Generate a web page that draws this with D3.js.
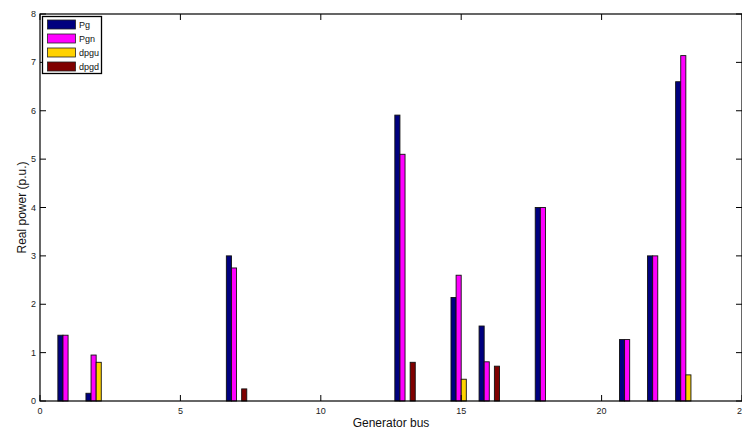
<!DOCTYPE html>
<html>
<head>
<meta charset="utf-8">
<script src="https://cdn.jsdelivr.net/npm/d3@7"></script>
<style>
  html, body { margin: 0; padding: 0; background: #fff; }
  svg { display: block; font-family: "Liberation Sans", Arial, sans-serif; }
</style>
</head>
<body>
<div id="chart"></div>
<script>
// generator bus numbers 1..23
const BUSES = d3.range(1, 24);
const SERIES = ["Pg", "Pgn", "dpgu", "dpgd"];
const COLORS = ["#00007f", "#ff00ff", "#ffd200", "#7f0000"];

const PG   = [1.36, 0.16, 0, 0, 0, 0, 3.0, 0, 0, 0, 0, 0, 5.91, 0, 2.14, 1.55, 0, 4.0, 0, 0, 1.27, 3.0, 6.6];
const PGN  = [1.36, 0.95, 0, 0, 0, 0, 2.75, 0, 0, 0, 0, 0, 5.1, 0, 2.6, 0.81, 0, 4.0, 0, 0, 1.27, 3.0, 7.14];
const DPGU = [0, 0.8, 0, 0, 0, 0, 0, 0, 0, 0, 0, 0, 0, 0, 0.45, 0, 0, 0, 0, 0, 0, 0, 0.54];
const DPGD = [0, 0, 0, 0, 0, 0, 0.25, 0, 0, 0, 0, 0, 0.8, 0, 0, 0.72, 0, 0, 0, 0, 0, 0, 0];

const X_TICKS = [0, 5, 10, 15, 20, 25];
const Y_TICKS = [0, 1, 2, 3, 4, 5, 6, 7, 8];

const W = 742, H = 431;
const M = { left: 40, right: 742, top: 14, bottom: 401 };

const svg = d3.select("#chart").append("svg")
  .attr("width", W).attr("height", H);

const x = d3.scaleLinear().domain([0, 25]).range([M.left, M.right]);
const y = d3.scaleLinear().domain([0, 8]).range([M.bottom, M.top]);

// grouped bars, matlab style
const groupW = 4 / 5.5;
const slot = groupW / SERIES.length;
const all = [PG, PGN, DPGU, DPGD];

all.forEach((vals, si) => {
  const off = -groupW / 2 + slot * (si + 0.5);
  svg.append("g")
    .selectAll("rect")
    .data(BUSES.map((b, i) => ({ b, v: vals[i] })).filter(d => d.v > 0))
    .join("rect")
    .attr("x", d => x(d.b + off - slot / 2))
    .attr("width", x(slot) - x(0))
    .attr("y", d => y(d.v))
    .attr("height", d => y(0) - y(d.v))
    .attr("fill", COLORS[si])
    .attr("stroke", "#111")
    .attr("stroke-width", 0.9);
});

// frame
svg.append("rect")
  .attr("x", M.left).attr("y", M.top)
  .attr("width", M.right - M.left).attr("height", M.bottom - M.top)
  .attr("fill", "none").attr("stroke", "#000").attr("stroke-width", 1.2);

const TL = 6;
const tickG = svg.append("g").attr("stroke", "#000").attr("stroke-width", 1);
X_TICKS.forEach(t => {
  tickG.append("line").attr("x1", x(t)).attr("x2", x(t)).attr("y1", M.bottom).attr("y2", M.bottom - TL);
  tickG.append("line").attr("x1", x(t)).attr("x2", x(t)).attr("y1", M.top).attr("y2", M.top + TL);
  svg.append("text")
    .attr("x", x(t)).attr("y", M.bottom + 13)
    .attr("text-anchor", "middle")
    .style("font-size", "9px").style("fill", "#222")
    .text(t);
});
Y_TICKS.forEach(t => {
  tickG.append("line").attr("x1", M.left).attr("x2", M.left + TL).attr("y1", y(t)).attr("y2", y(t));
  tickG.append("line").attr("x1", M.right).attr("x2", M.right - TL).attr("y1", y(t)).attr("y2", y(t));
  svg.append("text")
    .attr("x", M.left - 4).attr("y", y(t) + 3)
    .attr("text-anchor", "end")
    .style("font-size", "9px").style("fill", "#222")
    .text(t);
});

// axis labels
svg.append("text")
  .attr("x", (M.left + M.right) / 2 + 0).attr("y", 427)
  .attr("text-anchor", "middle")
  .style("font-size", "12px").style("fill", "#111")
  .text("Generator bus");

svg.append("text")
  .attr("transform", `translate(26,${(M.top + M.bottom) / 2}) rotate(-90)`)
  .attr("text-anchor", "middle")
  .style("font-size", "12px").style("fill", "#111")
  .text("Real power (p.u.)");

// legend
const lg = svg.append("g");
lg.append("rect")
  .attr("x", 42.5).attr("y", 16.5).attr("width", 59).attr("height", 57)
  .attr("fill", "#fff").attr("stroke", "#000").attr("stroke-width", 1.3);
SERIES.forEach((s, i) => {
  const yy = 20 + i * 14;
  lg.append("rect")
    .attr("x", 47.5).attr("y", yy).attr("width", 28).attr("height", 9)
    .attr("fill", COLORS[i]).attr("stroke", "#222").attr("stroke-width", 0.8);
  lg.append("text")
    .attr("x", 79).attr("y", yy + 8)
    .style("font-size", "9px").style("fill", "#111")
    .text(s);
});
</script>
</body>
</html>
